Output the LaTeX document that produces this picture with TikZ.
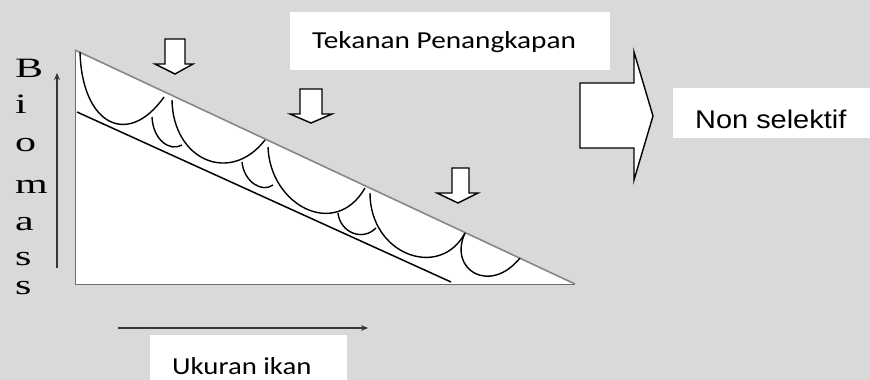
\documentclass[tikz,border=0pt]{standalone}
\usepackage{fontspec}
\newfontfamily\calibf{Carlito}
\newfontfamily\arialf{Liberation Sans}
\newfontfamily\timesf{Liberation Serif}
\usetikzlibrary{arrows.meta}
\definecolor{bg}{RGB}{217,217,217}
\definecolor{edgegray}{RGB}{110,110,110}
\definecolor{hypgray}{RGB}{135,135,135}
\definecolor{axisgray}{RGB}{55,55,55}
\tikzset{
  whitebox/.style={fill=white, draw=none},
  curvestyle/.style={draw=black, line width=1.4pt},
  arrowshape/.style={draw=black, fill=white, line width=1.4pt, line join=miter},
  letter/.style={anchor=base west, inner sep=0pt, font=\timesf\fontsize{28}{28}\selectfont},
  axisarrow/.style={draw=axisgray, line width=1.2pt, -{Stealth[length=7pt,width=6pt]}},
}
\begin{document}
\begin{tikzpicture}[x=1pt,y=-1pt]
\useasboundingbox (0,0) rectangle (870,380);
\fill[bg] (0,0) rectangle (870,380);

% text boxes
\fill[white] (290,12) rectangle (610,70);
\fill[white] (673,88) rectangle (870,138);
\fill[white] (150,335) rectangle (347,380);

% triangle
\fill[white] (75,50) -- (575,284) -- (75,284) -- cycle;
\draw[edgegray, line width=0.9pt] (75,50) -- (75,284) -- (575,284);
\draw[hypgray, line width=1.6pt] (75,50) -- (575,284);

% inner line
\draw[black, line width=1.5pt] (77,112) -- (451,282);

% arcs
\draw[curvestyle] (80,52) .. controls (82,125) and (128,148) .. (164,97);
\draw[curvestyle] (152,117) .. controls (153,140) and (170,152) .. (182,145);
\draw[curvestyle] (172,100) .. controls (173,160) and (230,185) .. (265,140);
\draw[curvestyle] (242,162) .. controls (244,182) and (262,193) .. (273,185);
\draw[curvestyle] (268,147) .. controls (270,205) and (335,240) .. (365,188);
\draw[curvestyle] (338,213) .. controls (340,232) and (362,242) .. (376,228);
\draw[curvestyle] (370,193) .. controls (370,255) and (440,280) .. (465,233);
\draw[curvestyle] (465,233) .. controls (448,270) and (490,295) .. (520,258);

% down arrows
\draw[arrowshape] (165,39) -- (185,39) -- (185,64) -- (193,64) -- (175,74) -- (155,64) -- (165,64) -- cycle;
\draw[arrowshape] (300,89) -- (322,89) -- (322,114) -- (332,114) -- (311,123) -- (290,114) -- (300,114) -- cycle;
\draw[arrowshape] (452,168) -- (469,168) -- (469,193) -- (478,193) -- (458,203) -- (437,193) -- (452,193) -- cycle;

% big right arrow
\draw[arrowshape] (580,83) -- (634,83) -- (634,52) -- (653,116) -- (634,180) -- (634,148) -- (580,148) -- cycle;

% axes
\coordinate (vstart) at (57,268);
\coordinate (vend) at (57,73);
\coordinate (hstart) at (118,328);
\coordinate (hend) at (368,328);
\draw[axisarrow] (vstart) -- (vend);
\draw[axisarrow] (hstart) -- (hend);

% texts
\node[anchor=base west, inner sep=0pt] (tekanan) at (312,48)
  {\calibf\fontsize{24.4}{24.4}\selectfont\scalebox{1.2}[1]{Tekanan Penangkapan}};
\node[anchor=base west, inner sep=0pt] (ukuran) at (172,374)
  {\calibf\fontsize{24.4}{24.4}\selectfont\scalebox{1.18}[1]{Ukuran ikan}};
\node[anchor=base west, inner sep=0pt] (nonsel) at (695,128)
  {\arialf\fontsize{25.6}{25.6}\selectfont\scalebox{1.13}[1]{Non selektif}};

\node[letter] (b1) at (15,77) {\scalebox{1.5}[1]{B}};
\node[letter] (b2) at (15,113) {\scalebox{1.5}[1]{i}};
\node[letter] (b3) at (15,151) {\scalebox{1.5}[1]{o}};
\node[letter] (b4) at (15,193) {\scalebox{1.5}[1]{m}};
\node[letter] (b5) at (15,230) {\scalebox{1.5}[1]{a}};
\node[letter] (b6) at (15,265) {\scalebox{1.5}[1]{s}};
\node[letter] (b7) at (15,294) {\scalebox{1.5}[1]{s}};
\end{tikzpicture}
\end{document}
